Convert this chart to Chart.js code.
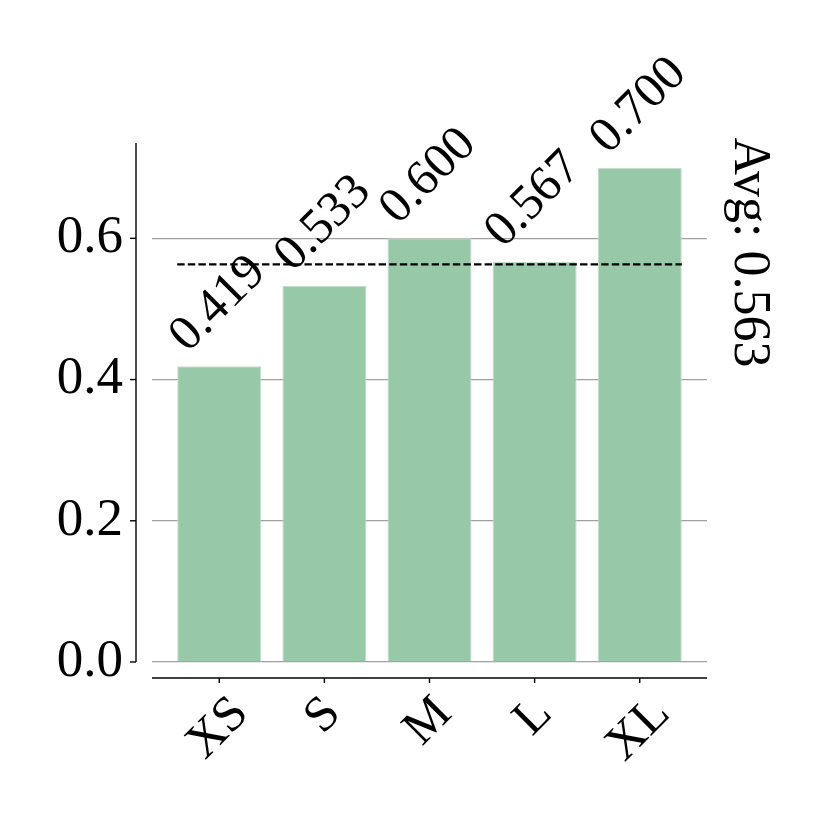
<!DOCTYPE html>
<html>
<head>
<meta charset="utf-8">
<script src="https://cdn.jsdelivr.net/npm/chart.js@4.4.0/dist/chart.umd.min.js"></script>
<style>
    html, body { margin: 0; padding: 0; background: #fff; }
    #wrap { width: 830px; height: 830px; }
</style>
</head>
<body>
<div id="wrap"><canvas id="barChart" width="830" height="830"></canvas></div>
<script>
// data
var categories = ['XS', 'S', 'M', 'L', 'XL'];
var scores = [0.419, 0.533, 0.600, 0.567, 0.700];
var avgScore = 0.563;
var yTicks = [0.0, 0.2, 0.4, 0.6];
var yMax = 0.735;

var serif = '"Liberation Serif", "Times New Roman", serif';
var barColor = '#97c8a8';

// draws text rotated by deg (canvas, clockwise positive), aligned on its rotated box
function drawRotated(ctx, text, x, y, deg, ha, va, size) {
    ctx.save();
    ctx.font = size + 'px ' + serif;
    ctx.textAlign = 'left';
    ctx.textBaseline = 'alphabetic';
    var w = ctx.measureText(text).width;
    var a = 0.69 * size, d = 0.22 * size;
    var t = deg * Math.PI / 180;
    var c = Math.cos(t), s = Math.sin(t);
    var pts = [[0, -a], [w, -a], [0, d], [w, d]].map(function (p) {
        return [p[0] * c - p[1] * s, p[0] * s + p[1] * c];
    });
    var px = pts.map(function (p) { return p[0]; });
    var py = pts.map(function (p) { return p[1]; });
    var minX = Math.min.apply(null, px), maxX = Math.max.apply(null, px);
    var minY = Math.min.apply(null, py), maxY = Math.max.apply(null, py);
    var ox = ha === 'center' ? x - (minX + maxX) / 2 : (ha === 'left' ? x - minX : x - maxX);
    var oy = va === 'center' ? y - (minY + maxY) / 2 : (va === 'top' ? y - minY : y - maxY);
    ctx.translate(ox, oy);
    ctx.rotate(t);
    ctx.fillStyle = '#000';
    ctx.fillText(text, 0, 0);
    ctx.restore();
}

function line(ctx, x1, y1, x2, y2) {
    ctx.beginPath();
    ctx.moveTo(x1, y1);
    ctx.lineTo(x2, y2);
    ctx.stroke();
}

// offset spines, ticks and text labels
var decorations = {
    id: 'decorations',
    afterDatasetsDraw: function (chart) {
        var ctx = chart.ctx;
        var area = chart.chartArea;
        var xs = chart.scales.x, ys = chart.scales.y;
        ctx.save();
        ctx.strokeStyle = '#000';
        ctx.lineWidth = 1.4;

        var sx = area.left - 16;
        line(ctx, sx, ys.getPixelForValue(yMax), sx, ys.getPixelForValue(0));
        yTicks.forEach(function (v) {
            var p = ys.getPixelForValue(v);
            line(ctx, sx - 6, p, sx, p);
        });

        var sy = area.bottom + 16;
        line(ctx, area.left, sy, area.right, sy);
        categories.forEach(function (c, i) {
            var p = xs.getPixelForValue(i);
            line(ctx, p, sy, p, sy + 5);
            drawRotated(ctx, c, p, sy + 13, -45, 'center', 'top', 50);
        });

        scores.forEach(function (v, i) {
            drawRotated(ctx, v.toFixed(3), xs.getPixelForValue(i), ys.getPixelForValue(v) - 5, -45, 'center', 'bottom', 50);
        });

        drawRotated(ctx, 'Avg: ' + avgScore.toFixed(3), area.right + 40, ys.getPixelForValue(avgScore) - 12, 90, 'center', 'center', 52);
        ctx.restore();
    }
};

var ctx = document.getElementById('barChart').getContext('2d');
var myChart = new Chart(ctx, {
    type: 'bar',
    data: {
        datasets: [{
            type: 'line',
            label: 'Average',
            data: [{x: -0.4, y: avgScore}, {x: categories.length - 0.6, y: avgScore}],
            borderColor: '#000',
            borderWidth: 2.2,
            borderDash: [7.4, 3.2],
            pointRadius: 0,
            fill: false,
            order: 0
        }, {
            label: 'Score',
            data: scores.map(function (v, i) { return {x: i, y: v}; }),
            backgroundColor: barColor,
            borderColor: '#c4dfcc',
            borderWidth: 1,
            barPercentage: 0.8,
            categoryPercentage: 1.0,
            order: 1
        }]
    },
    options: {
        responsive: false,
        animation: false,
        devicePixelRatio: 1,
        layout: { padding: { left: 0, top: 143, right: 123, bottom: 0 } },
        plugins: {
            legend: { display: false },
            tooltip: { enabled: false }
        },
        scales: {
            x: {
                type: 'linear',
                min: -0.64,
                max: categories.length - 0.36,
                offset: false,
                grid: { display: false },
                border: { display: false },
                ticks: { display: false },
                afterBuildTicks: function (s) {
                    s.ticks = categories.map(function (c, i) { return {value: i}; });
                },
                afterFit: function (s) { s.height = 168; }
            },
            y: {
                min: 0,
                max: yMax,
                grid: { color: '#a0a0a0', lineWidth: 1.2, drawTicks: false },
                border: { display: false },
                ticks: {
                    color: '#000',
                    padding: 29,
                    font: { family: serif, size: 53 },
                    callback: function (v) { return v.toFixed(1); }
                },
                afterBuildTicks: function (s) {
                    s.ticks = yTicks.map(function (v) { return {value: v}; });
                },
                afterFit: function (s) { s.width = 152; }
            }
        }
    },
    plugins: [decorations]
});
</script>
</body>
</html>
